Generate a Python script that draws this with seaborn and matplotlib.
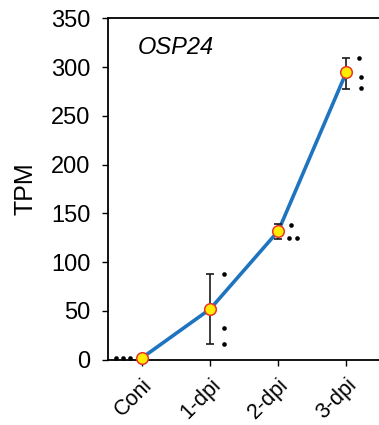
import numpy as np
import pandas as pd
import matplotlib
matplotlib.use("Agg")
import matplotlib.pyplot as plt
import seaborn as sns

# ==========================================
# Data
# ==========================================
categories = ["Coni", "1-dpi", "2-dpi", "3-dpi"]
mean_tpm = [2, 52, 132, 295]
err_low = [2, 16, 124, 278]
err_high = [2, 88, 139, 309]

# replicate values per category
rep_tpm = [
    [1.5, 1.5, 1.5],
    [88, 33, 16],
    [138, 125, 125],
    [309, 290, 279],
]
# horizontal offset of replicate dots from their category
rep_shift = [
    [-0.39, -0.28, -0.17],
    [0.20, 0.20, 0.20],
    [0.18, 0.16, 0.28],
    [0.19, 0.21, 0.21],
]

gene = "OSP24"

# ==========================================
# Build frames
# ==========================================
pos = np.arange(len(categories))
mean_df = pd.DataFrame({"x": pos, "tpm": mean_tpm})
rep_df = pd.DataFrame({
    "x": [p + s for p, shifts in zip(pos, rep_shift) for s in shifts],
    "tpm": [v for vals in rep_tpm for v in vals],
})

# ==========================================
# Plot
# ==========================================
sns.set_theme(style="ticks")
plt.rcParams["font.family"] = ["Liberation Sans", "DejaVu Sans"]
plt.rcParams["text.color"] = "black"
plt.rcParams["xtick.color"] = "black"
plt.rcParams["ytick.color"] = "black"
plt.rcParams["axes.labelcolor"] = "black"

fig = plt.figure(figsize=(3.79, 4.25), dpi=100)
ax = fig.add_axes([0.285, 0.1536, 0.719, 0.8034])

sns.lineplot(data=mean_df, x="x", y="tpm", ax=ax, color="#1f74bf",
             linewidth=2.6, zorder=2, clip_on=False)

ax.errorbar(pos, mean_tpm,
            yerr=[np.array(mean_tpm) - np.array(err_low),
                  np.array(err_high) - np.array(mean_tpm)],
            fmt="none", ecolor="#1a1a1a", elinewidth=1.2, capsize=2.8,
            capthick=1.2, zorder=3)

sns.scatterplot(data=rep_df, x="x", y="tpm", ax=ax, color="black",
                s=11, linewidth=0, zorder=4, clip_on=False)

sns.scatterplot(data=mean_df, x="x", y="tpm", ax=ax, color="#ffec00",
                edgecolor="#e8332a", linewidth=1.1, s=70, zorder=5,
                clip_on=False)

ax.set_xlim(-0.5, 3.5)
ax.set_ylim(0, 350)
ax.set_yticks(range(0, 351, 50))
ax.set_xticks(pos)
ax.set_xticklabels(categories, rotation=45, ha="right",
                   rotation_mode="anchor", fontsize=15.5)
ax.tick_params(axis="y", labelsize=17, length=4.5, width=1.0, pad=8)
ax.tick_params(axis="x", length=4.5, width=1.0, pad=6)
ax.set_xlabel("")
ax.set_ylabel("TPM", fontsize=18, labelpad=10)

ax.text(0.11, 0.915, gene, transform=ax.transAxes, style="italic",
        fontsize=17, ha="left", va="center")

for side in ["left", "bottom", "top"]:
    ax.spines[side].set_linewidth(1.3)
    ax.spines[side].set_color("black")
ax.spines["right"].set_visible(False)

fig.savefig("out.png", dpi=100)
